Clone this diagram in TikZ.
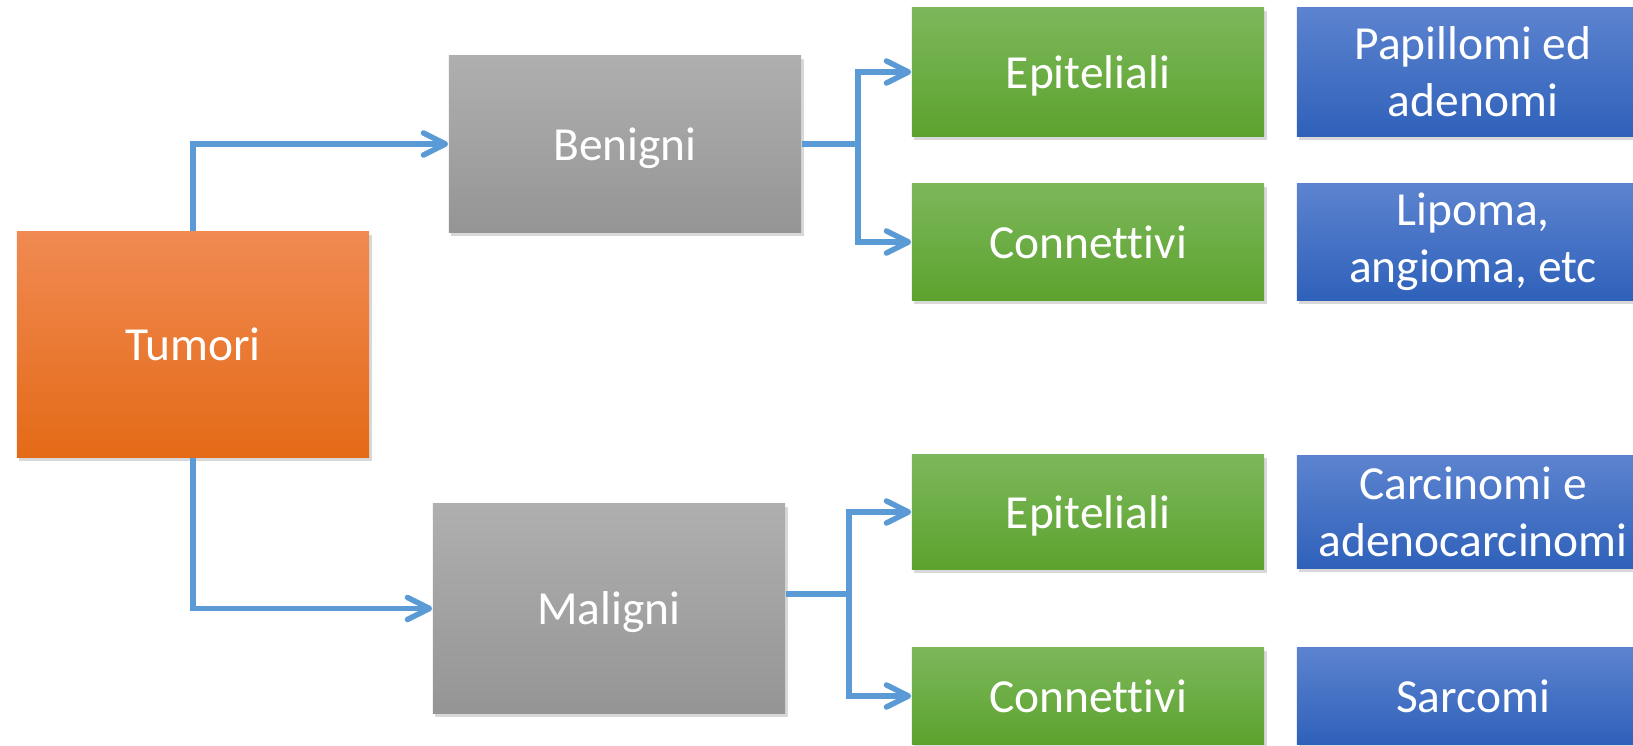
\documentclass[tikz,border=0pt]{standalone}
\usepackage{fontspec}
\setmainfont{Carlito}[Ligatures=NoCommon]
\usetikzlibrary{arrows.meta,shadows,calc}
\definecolor{conncol}{HTML}{5B9BD5}
\definecolor{orT}{HTML}{F08A52}
\definecolor{orM}{HTML}{F47D2A}
\definecolor{orB}{HTML}{E46A17}
\definecolor{grT}{HTML}{AFAFAF}
\definecolor{grB}{HTML}{959595}
\definecolor{gnT}{HTML}{7CB85B}
\definecolor{gnB}{HTML}{5DA22E}
\definecolor{blT}{HTML}{5C83CF}
\definecolor{blB}{HTML}{2F61BA}
\tikzset{
  box/.style={rectangle, inner sep=0pt, text=white, align=center,
    font=\fontsize{13.5}{16.2}\selectfont,
    drop shadow={shadow xshift=0.025cm, shadow yshift=-0.035cm, opacity=0.3}},
  oneline/.style={text depth=0pt},
  orangebox/.style={box, top color=orT, middle color=orM, bottom color=orB},
  graybox/.style={box, top color=grT, bottom color=grB},
  greenbox/.style={box, top color=gnT, bottom color=gnB},
  bluebox/.style={box, top color=blT, bottom color=blB},
  conn/.style={draw=conncol, line width=0.055cm, line join=miter,
    -{Straight Barb[length=0.22cm,width=0.22cm,line cap=round,line join=round]}},
  plain/.style={draw=conncol, line width=0.055cm}
}
\begin{document}
\begin{tikzpicture}[x=0.01cm,y=-0.01cm]
\clip (0,0) rectangle (1633,745);
\fill[white] (0,0) rectangle (1633,745);
% nodes
\node[orangebox, oneline, minimum width=3.52cm, minimum height=2.25cm] (tumori) at (193,344.5) {Tumori};
\node[graybox, oneline, minimum width=3.52cm, minimum height=1.76cm] (benigni) at (625,144) {Benigni};
\node[graybox, oneline, minimum width=3.52cm, minimum height=2.09cm] (maligni) at (609,608.5) {Maligni};
\node[greenbox, oneline, minimum width=3.52cm, minimum height=1.28cm] (epi1) at (1088,72) {Epiteliali};
\node[greenbox, oneline, minimum width=3.52cm, minimum height=1.16cm] (con1) at (1088,242) {Connettivi};
\node[greenbox, oneline, minimum width=3.52cm, minimum height=1.14cm] (epi2) at (1088,512) {Epiteliali};
\node[greenbox, oneline, minimum width=3.52cm, minimum height=0.96cm] (con2) at (1088,696) {Connettivi};
\node[bluebox, minimum width=3.52cm, minimum height=1.28cm] (pap) at (1473,72) {Papillomi ed\\adenomi};
\node[bluebox, minimum width=3.52cm, minimum height=1.16cm] (lip) at (1473,242) {Lipoma,\\angioma, etc};
\node[bluebox, minimum width=3.52cm, minimum height=1.12cm] (carc) at (1473,512) {Carcinomi e\\adenocarcinomi};
\node[bluebox, oneline, minimum width=3.52cm, minimum height=0.96cm] (sarc) at (1473,696) {Sarcomi};
% junctions
\coordinate (j1) at (858,144);
\coordinate (j2) at (849,594);
% connectors
\draw[conn] (tumori.north) |- (benigni.west);
\draw[conn] (tumori.south) |- (maligni.west);
\draw[plain] (benigni.east) -- (j1);
\draw[conn] (j1) |- (epi1.west);
\draw[conn] (j1) |- (con1.west);
\draw[plain] (j2 -| maligni.east) -- (j2);
\draw[conn] (j2) |- (epi2.west);
\draw[conn] (j2) |- (con2.west);
\end{tikzpicture}
\end{document}
